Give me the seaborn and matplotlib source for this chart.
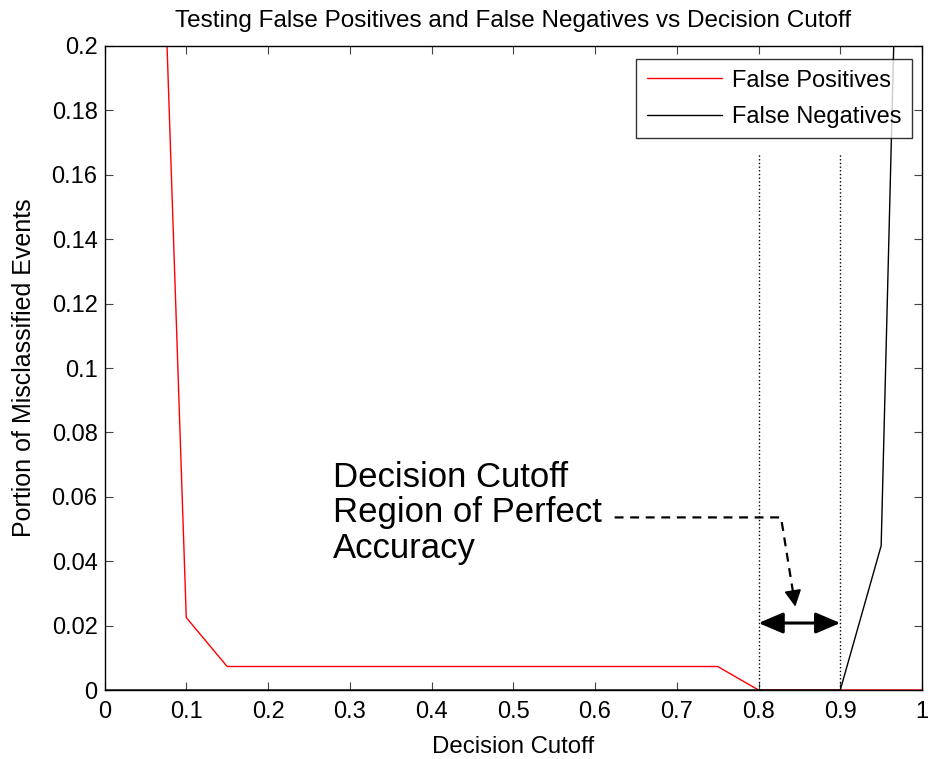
import numpy as np
import pandas as pd
import matplotlib
matplotlib.use("Agg")
import matplotlib.pyplot as plt
import seaborn as sns

# Decision cutoff grid and misclassification rates
cutoff = [0.0, 0.05, 0.10, 0.15, 0.20, 0.25, 0.30, 0.35, 0.40, 0.45, 0.50,
          0.55, 0.60, 0.65, 0.70, 0.75, 0.80, 0.85, 0.90, 0.95, 1.00]
false_pos = [1.0, 0.40, 0.0225, 0.0073, 0.0073, 0.0073, 0.0073, 0.0073, 0.0073,
             0.0073, 0.0073, 0.0073, 0.0073, 0.0073, 0.0073, 0.0073, 0.0, 0.0,
             0.0, 0.0, 0.0]
false_neg = [0.0, 0.0, 0.0, 0.0, 0.0, 0.0, 0.0, 0.0, 0.0, 0.0, 0.0, 0.0, 0.0,
             0.0, 0.0, 0.0, 0.0, 0.0, 0.0, 0.0448, 0.55]
series_names = ["False Positives", "False Negatives"]
x_ticks = [0, 0.1, 0.2, 0.3, 0.4, 0.5, 0.6, 0.7, 0.8, 0.9, 1]
y_ticks = [0, 0.02, 0.04, 0.06, 0.08, 0.1, 0.12, 0.14, 0.16, 0.18, 0.2]

# Perfect-accuracy region bounds and annotation geometry
region_lo, region_hi = 0.8, 0.9
region_top = 0.1665
arrow_y = 0.0208
note_lines = ["Decision Cutoff", "Region of Perfect", "Accuracy"]

df = pd.DataFrame({
    "cutoff": cutoff * 2,
    "rate": false_pos + false_neg,
    "series": [series_names[0]] * len(cutoff) + [series_names[1]] * len(cutoff),
})

sns.set_theme(style="white")
plt.rcParams["font.family"] = ["Liberation Sans", "DejaVu Sans"]
plt.rcParams["text.color"] = "black"

fig = plt.figure(figsize=(9.29, 7.59), dpi=100)
ax = fig.add_axes([0.1125, 0.0909, 0.88, 0.8485])

sns.lineplot(data=df, x="cutoff", y="rate", hue="series",
             palette={series_names[0]: "#ff0000", series_names[1]: "#000000"},
             linewidth=1.0, ax=ax, legend=True)

ax.set_xlim(0, 1)
ax.set_ylim(0, 0.2)
ax.set_xticks(x_ticks)
ax.set_yticks(y_ticks)
ax.set_xticklabels([f"{v:g}" for v in x_ticks])
ax.set_yticklabels([f"{v:g}" for v in y_ticks])

for s in ax.spines.values():
    s.set_visible(True)
    s.set_color("black")
    s.set_linewidth(1.0)

ax.tick_params(axis="both", which="major", direction="in", length=6,
               width=0.8, color="#444444", labelsize=17, labelcolor="black",
               top=True, right=True, bottom=True, left=True, pad=5)
ax.tick_params(axis="x", pad=8)

ax.set_xlabel("Decision Cutoff", fontsize=17.3, color="black", labelpad=9)
ax.set_ylabel("Portion of Misclassified Events", fontsize=18, color="black", labelpad=11)
ax.set_title("Testing False Positives and False Negatives vs Decision Cutoff",
             fontsize=17.5, color="black", pad=14)

# Boundaries of the perfect-accuracy region
for xv in (region_lo, region_hi):
    ax.plot([xv, xv], [0, region_top], linestyle=":", color="black", linewidth=1.0)

# Double-headed arrow spanning the region
ax.annotate("", xy=(region_hi, arrow_y), xytext=(region_lo, arrow_y),
            arrowprops=dict(arrowstyle="<|-|>,head_length=0.75,head_width=0.32",
                            color="black", linewidth=2.2, shrinkA=0, shrinkB=0,
                            mutation_scale=20))

# Dashed leader from the note down to the arrow, ending in a solid head
lead_x = [0.624, 0.8275, 0.8425]
lead_y = [0.0536, 0.0536, 0.0299]
tip = (0.845, 0.0259)
ax.plot(lead_x, lead_y, linestyle=(0, (4, 3)), color="black", linewidth=1.6)
ax.annotate("", xy=tip, xytext=(lead_x[-1], lead_y[-1]),
            arrowprops=dict(arrowstyle="-|>,head_length=0.5,head_width=0.26",
                            color="black", linewidth=1.2,
                            shrinkA=0, shrinkB=0, mutation_scale=20))

for txt, yb in zip(note_lines, [0.0631, 0.0523, 0.0410]):
    ax.text(0.279, yb, txt, fontsize=25, color="black", va="baseline", ha="left")

leg = ax.legend(loc="upper right", bbox_to_anchor=(0.9877, 0.9798),
                fontsize=17, frameon=True, fancybox=False, shadow=False,
                handlelength=3.2, handletextpad=0.4, borderpad=0.45,
                labelspacing=0.6, borderaxespad=0)
leg.get_frame().set_edgecolor("black")
leg.get_frame().set_linewidth(1.0)
for line in leg.get_lines():
    line.set_linewidth(1.0)
for t in leg.get_texts():
    t.set_color("black")

fig.savefig("out.png", dpi=100, facecolor="white")
